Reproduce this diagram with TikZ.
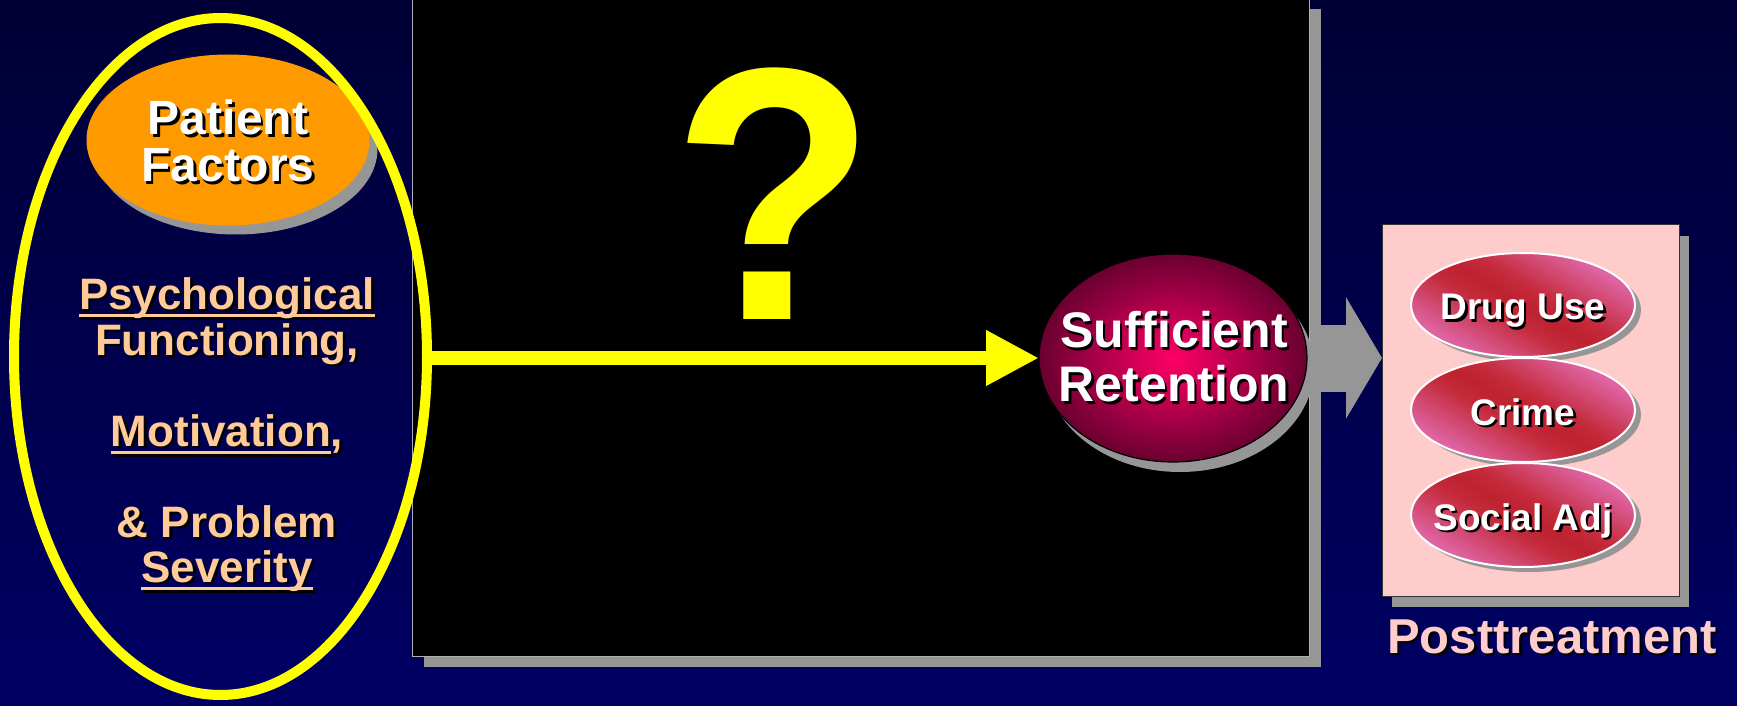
\documentclass[tikz,border=0pt]{standalone}
\usepackage{fontspec}
\setmainfont{Liberation Sans}
\usetikzlibrary{shapes.geometric,arrows.meta}
\definecolor{bgtop}{HTML}{000035}
\definecolor{bgbot}{HTML}{000064}
\definecolor{shgray}{HTML}{969696}
\definecolor{porange}{HTML}{FF9900}
\definecolor{peach}{HTML}{FFCC99}
\definecolor{pinkbox}{HTML}{FFCCCC}
\definecolor{qyellow}{HTML}{FFFF00}
\definecolor{boxedge}{HTML}{B0B0B0}
\definecolor{sufin}{HTML}{FF0066}
\definecolor{sufout}{HTML}{6A0030}
\definecolor{pkA}{HTML}{DE64A2}
\definecolor{rdA}{HTML}{C42A3A}
\definecolor{rdB}{HTML}{BE2230}
\pgfdeclarehorizontalshading{pinkred}{100bp}{color(0bp)=(pkA); color(27bp)=(pkA); color(44bp)=(rdA); color(50bp)=(rdB); color(56bp)=(rdA); color(73bp)=(pkA); color(100bp)=(pkA)}
\newsavebox\ulbox
\newcommand\myul[1]{\sbox\ulbox{#1}\rlap{\rule[-4.2pt]{\wd\ulbox}{1.6pt}}\usebox\ulbox}
\newcommand\shtext[4]{%
  \node[#3, text=black, xshift=1.2pt, yshift=-1.2pt] (#1-sh) at #2 {#4};
  \node[#3] (#1) at #2 {#4};}
\begin{document}
\begin{tikzpicture}[x=0.5pt,y=-0.5pt,
  elln/.style={ellipse, inner sep=0pt, outer sep=0pt},
  shad/.style={fill=shgray, draw=none},
  lefttxt/.style={anchor=base, inner sep=0pt, text=peach, font=\bfseries\fontsize{22}{22}\selectfont},
  outcome/.style={elln, shading=pinkred, shading angle=60, draw=white, line width=1pt, minimum width=112pt, minimum height=52pt},
  outtxt/.style={anchor=base, inner sep=0pt, text=white, font=\bfseries\fontsize{18.5}{18.5}\selectfont},
  shadeln/.style={elln, shad, minimum width=112pt, minimum height=52pt}
 ]
\useasboundingbox (0,0) rectangle (1737,706);
\shade[top color=bgtop, bottom color=bgbot] (0,0) rectangle (1737,706);

% posttreatment box
\node[rectangle, shad, minimum width=148.5pt, minimum height=185.5pt] (postsh) at (1540.5,421.5) {};
\node[rectangle, fill=pinkbox, draw=black!80, line width=0.5pt, minimum width=148.5pt, minimum height=185.5pt, outer sep=0pt] (post) at (1530.5,410.5) {};

% gray arrow
\coordinate (gstart) at (1290,358);
\draw[draw=shgray, line width=33.5pt, -{Triangle[length=18pt,width=60pt]}] (gstart) -- (post.west |- gstart);

% black box
\node[rectangle, shad, minimum width=448.5pt, minimum height=329pt] (boxsh) at (872,338) {};
\node[rectangle, fill=black, draw=boxedge, line width=0.5pt, minimum width=448.5pt, minimum height=329pt, outer sep=0pt] (box) at (860.5,327) {};

% question mark
\node[font=\bfseries\fontsize{170}{170}\selectfont, text=qyellow, anchor=base, inner sep=0pt] (q) at (774,319) {\scalebox{0.98}[1.06]{?}};

% patient factors
\node[elln, shad, minimum width=141.5pt, minimum height=85.5pt] (pfsh) at (236,149) {};
\node[elln, fill=porange, minimum width=141.5pt, minimum height=85.5pt] (pf) at (228,140) {};
\shtext{pft}{(228,141)}{inner sep=0pt, text=white, align=center, font=\bfseries\fontsize{24}{23.5}\selectfont}{Patient\\Factors}

% yellow group ellipse
\node[elln, draw=qyellow, line width=5pt, minimum width=206.5pt, minimum height=338.5pt] (grp) at (220.5,356.5) {};

% left text
\shtext{l1}{(227,309)}{lefttxt}{\myul{Psychological}}
\shtext{l2}{(227,355)}{lefttxt}{Functioning,}
\shtext{l3}{(227,446)}{lefttxt}{\myul{Motivation},}
\shtext{l4}{(227,537)}{lefttxt}{\&\ Problem}
\shtext{l5}{(227,582)}{lefttxt}{\myul{Severity}}

% sufficient retention
\node[elln, shad, minimum width=134pt, minimum height=104pt] (sufsh) at (1180,368) {};
\node[elln, inner color=sufin, outer color=sufout, draw=black, line width=0.6pt, minimum width=134pt, minimum height=104pt] (suf) at (1173,358) {};
\shtext{suft}{(1174,357)}{inner sep=0pt, text=white, align=center, font=\bfseries\fontsize{25}{27}\selectfont}{Sufficient\\Retention}

% yellow arrow
\draw[draw=qyellow, line width=7pt, -{Triangle[length=26.5pt,width=26pt]}] (grp.east |- suf.west) -- (suf.west);

% outcomes
\node[shadeln] (dush) at (1529,310) {};
\node[outcome] (du) at (1523,305) {};
\shtext{dut}{(1523,320)}{outtxt}{Drug Use}
\node[shadeln] (crsh) at (1529,415) {};
\node[outcome] (cr) at (1523,410) {};
\shtext{crt}{(1523,425)}{outtxt}{Crime}
\node[shadeln] (sash) at (1529,520) {};
\node[outcome] (sa) at (1523,515) {};
\shtext{sat}{(1523,530)}{outtxt}{Social Adj}

% posttreatment label
\shtext{ptl}{(1552,653)}{anchor=base, inner sep=0pt, text=pinkbox, font=\bfseries\fontsize{24.5}{24.5}\selectfont}{Posttreatment}
\end{tikzpicture}
\end{document}
